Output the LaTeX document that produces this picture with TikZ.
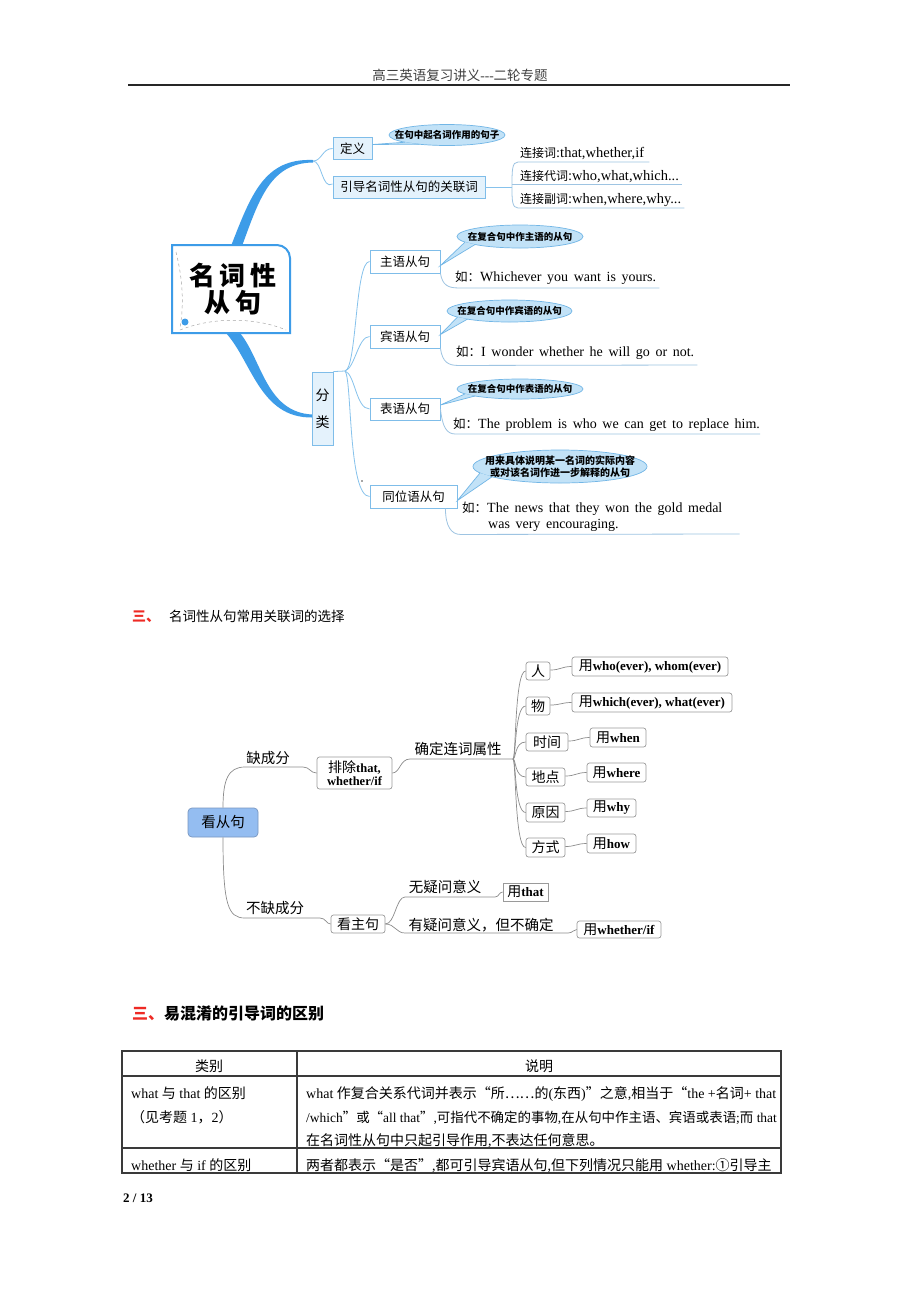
\documentclass[tikz,border=0pt]{standalone}
\usepackage{fontspec}
\setmainfont{Liberation Serif}
\newfontfamily\cjk{Noto Sans CJK SC}
\usetikzlibrary{shapes.geometric,calc}
\definecolor{brblue}{HTML}{3D9CE8}
\definecolor{tcol}{HTML}{86C2EC}
\definecolor{bxdraw}{HTML}{7FBDE9}
\definecolor{bxfill}{HTML}{E4F2FC}
\definecolor{bubfill}{HTML}{C2E2F7}
\definecolor{bubdraw}{HTML}{72B6E6}
\definecolor{ulcol}{HTML}{9EC4E2}
\definecolor{glin}{HTML}{8C8C8C}
\definecolor{gbd}{HTML}{9A9A9A}
\definecolor{kfill}{HTML}{94BDF1}
\definecolor{kdraw}{HTML}{7896C0}
\definecolor{hred}{HTML}{EE2A24}
\definecolor{tblc}{HTML}{3A3A3A}
\newcommand{\setfs}[1]{\fontsize{#1}{#1}\selectfont}
\begin{document}
\begin{tikzpicture}[x=1pt,y=-1pt,
  lbox/.style={draw=bxdraw, fill=bxfill, line width=0.9pt, inner sep=0pt, font=\cjk\setfs{12.5}},
  wbox/.style={draw=bxdraw, fill=white, line width=0.9pt, inner sep=0pt, font=\cjk\setfs{12.5}},
  bubst/.style={draw=bubdraw, fill=bubfill, line width=0.7pt},
  bubtxt/.style={inner sep=0pt, align=center, font=\cjk\bfseries\setfs{9.5}},
  tline/.style={draw=tcol, line width=0.8pt},
  uline/.style={draw=ulcol, line width=0.8pt},
  ex/.style={anchor=base west, inner sep=0pt, font={\setfs{14}\spaceskip=0.4em\relax}},
  ctxt/.style={anchor=base west, inner sep=0pt, font=\setfs{14.5}},
  gbox/.style={draw=gbd, fill=white, rounded corners=2.5pt, line width=0.7pt, inner sep=0pt, font=\cjk\setfs{14}},
  ubox/.style={draw=gbd, fill=white, rounded corners=2.5pt, line width=0.7pt, inner sep=0pt, font=\bfseries\setfs{13}},
  glab/.style={inner sep=0pt, font=\cjk\setfs{14.5}},
  gline/.style={draw=glin, line width=0.7pt},
  ttxt/.style={anchor=base west, inner sep=0pt, font=\setfs{14}},
]
\fill[white] (0,0) rectangle (920,1302);
\useasboundingbox (0,0) rectangle (920,1302);

% ---------- page header ----------
\node[inner sep=0pt, font=\setfs{13.5}, text=black!75] (hdr) at (460,75) {{\cjk 高三英语复习讲义}-{}-{}-{\cjk 二轮专题}};
\draw[line width=1.2pt, black!85] (128,85) -- (790,85);

% ---------- diagram 1 ----------
% thick branches
\fill[brblue] (231,246) .. controls (251,195) and (264,158) .. (313,160) -- (313,162.5) .. controls (270,163) and (259,200) .. (242,246) -- cycle;
\fill[brblue] (226,333) .. controls (252,362) and (260,418) .. (312,417.5) -- (312,414.5) .. controls (266,412) and (262,360) .. (240,333) -- cycle;

% central box
\draw[brblue, line width=2pt, fill=white] (172,333) -- (172,245) -- (277,245) .. controls (284,245) and (290,251) .. (290,258) -- (290,333) -- cycle;
\draw[black!35, dashed, line width=0.5pt] (176,252) .. controls (183,280) and (184,305) .. (180,328);
\draw[black!35, dashed, line width=0.5pt] (180,330) .. controls (215,316) and (258,318) .. (286,330);
\fill[brblue] (185,322) circle[radius=3.5];
\node[inner sep=0pt, align=center, font=\cjk\bfseries\fontsize{26}{27}\selectfont] (root) at (233,289.5) {名\,词\,性\\从\,句};

% definition / connectives
\node[lbox, minimum width=39, minimum height=22] (def) at (352.5,148.5) {定义};
\node[lbox, minimum width=152, minimum height=22] (lead) at (409,187) {引导名词性从句的关联词};
\coordinate (j1) at (313,161);
\draw[tline] (j1) .. controls (322,161) and (322,148.5) .. (def.west);
\draw[tline] (j1) .. controls (322,161) and (322,190) .. ([yshift=3]lead.west);

\coordinate (b0c) at (447,135);
\draw[bubst] (b0c) ellipse[x radius=58, y radius=10.5];
\fill[bubfill] ([yshift=4]def.east) -- ($(b0c)+(-42,7.24)$) -- ($(b0c)+(-28,9.2)$) -- cycle;
\draw[bubdraw, line width=0.7pt] ($(b0c)+(-42,7.24)$) -- ([yshift=4]def.east) -- ($(b0c)+(-28,9.2)$);
\node[bubtxt] (b0) at (b0c) {在句中起名词作用的句子};

\node[ctxt] (c1) at (520,157) {{\cjk\setfs{12}连接词}:that,whether,if};
\node[ctxt] (c2) at (520,180) {{\cjk\setfs{12}连接代词}:who,what,which...};
\node[ctxt] (c3) at (520,203) {{\cjk\setfs{12}连接副词}:when,where,why...};
\coordinate (j2) at (512,187);
\draw[tline] (lead.east) -- (j2);
\draw[uline] (j2) .. controls (512,170) and (512,162) .. ($(c1.base west)+(-2,5)$) -- ($(c1.base east)+(5,5)$);
\draw[uline] ($(c2.base west)+(-8,4)$) -- ($(c2.base east)+(3,4)$);
\draw[uline] (j2) .. controls (512,200) and (512,208) .. ($(c3.base west)+(-2,5)$) -- ($(c3.base east)+(3,5)$);

% classification
\node[lbox, minimum width=21, minimum height=73, align=center, font=\cjk\fontsize{14}{27}\selectfont] (fen) at (322.5,408.5) {分\\类};
\coordinate (J) at (345,371);
\draw[tline] (fen.north east) -- (J);

\node[wbox, minimum width=70, minimum height=23] (zy) at (405,261.5) {主语从句};
\node[wbox, minimum width=70, minimum height=23] (by) at (405,336.5) {宾语从句};
\node[wbox, minimum width=70, minimum height=22] (bi) at (405,409) {表语从句};
\node[wbox, minimum width=87, minimum height=23] (tw) at (413.5,496.5) {同位语从句};
\draw[tline] (J) .. controls (357,368) and (355,261.5) .. (zy.west);
\draw[tline] (J) .. controls (355,368) and (358,336.5) .. (by.west);
\draw[tline] (J) .. controls (355,374) and (356,409) .. (bi.west);
\draw[tline] (J) .. controls (352,378) and (348,496.5) .. (tw.west);
\fill[black!70] (362,481) circle[radius=0.9];

% bubbles
\coordinate (q1c) at (520,236.5);
\draw[bubst] (q1c) ellipse[x radius=63, y radius=11.5];
\fill[bubfill] ([yshift=-4]zy.east) -- ($(q1c)+(-55,5.6)$) -- ($(q1c)+(-45,8.05)$) -- cycle;
\draw[bubdraw, line width=0.7pt] ($(q1c)+(-55,5.6)$) -- ([yshift=-4]zy.east) -- ($(q1c)+(-45,8.05)$);
\node[bubtxt] (q1) at (q1c) {在复合句中作主语的从句};

\coordinate (q2c) at (509.5,311);
\draw[bubst] (q2c) ellipse[x radius=62.5, y radius=11];
\fill[bubfill] ([yshift=2]by.east) -- ($(q2c)+(-52,6.1)$) -- ($(q2c)+(-42,8.1)$) -- cycle;
\draw[bubdraw, line width=0.7pt] ($(q2c)+(-52,6.1)$) -- ([yshift=2]by.east) -- ($(q2c)+(-42,8.1)$);
\node[bubtxt] (q2) at (q2c) {在复合句中作宾语的从句};

\coordinate (q3c) at (520,389);
\draw[bubst] (q3c) ellipse[x radius=63, y radius=10];
\fill[bubfill] ([yshift=4]bi.east) -- ($(q3c)+(-55,4.9)$) -- ($(q3c)+(-45,7)$) -- cycle;
\draw[bubdraw, line width=0.7pt] ($(q3c)+(-55,4.9)$) -- ([yshift=4]bi.east) -- ($(q3c)+(-45,7)$);
\node[bubtxt] (q3) at (q3c) {在复合句中作表语的从句};

\coordinate (q4c) at (560,466.5);
\draw[bubst] (q4c) ellipse[x radius=87, y radius=16.5];
\fill[bubfill] ([yshift=-4]tw.east) -- ($(q4c)+(-80,6.5)$) -- ($(q4c)+(-68,10.3)$) -- cycle;
\draw[bubdraw, line width=0.7pt] ($(q4c)+(-80,6.5)$) -- ([yshift=-4]tw.east) -- ($(q4c)+(-68,10.3)$);
\node[bubtxt, font=\cjk\bfseries\fontsize{10}{12}\selectfont] (q4) at (q4c) {用来具体说明某一名词的实际内容\\或对该名词作进一步解释的从句};

% examples
\node[ex] (e1) at (455,281) {{\cjk\setfs{12.5}如：}Whichever you want is yours.};
\draw[uline] (zy.south east) .. controls ($(zy.south east)+(2,12)$) and ($(zy.south east)+(8,14.5)$) .. ($(zy.south east)+(18,14.5)$) -- ($(e1.base east)+(3,7)$);
\node[ex] (e2) at (456,356) {{\cjk\setfs{12.5}如：}I wonder whether he will go or not.};
\draw[uline] (by.south east) .. controls ($(by.south east)+(2,14)$) and ($(by.south east)+(8,17)$) .. ($(by.south east)+(18,17)$) -- ($(e2.base east)+(3,9)$);
\node[ex] (e3) at (453,428) {{\cjk\setfs{12.5}如：}The problem is who we can get to replace him.};
\draw[uline] (bi.east) .. controls ($(bi.east)+(2,18)$) and ($(bi.east)+(6,25)$) .. ($(bi.east)+(15,25)$) -- ($(e3.base east)+(0,6)$);
\node[ex] (e4) at (462,512) {{\cjk\setfs{12.5}如：}The news that they won the gold medal};
\node[ex] (e4b) at (488,528) {was very encouraging.};
\draw[uline] ([xshift=-12]tw.south east) .. controls ($(tw.south east)+(-12,18)$) and ($(tw.south east)+(-6,26)$) .. ($(tw.south east)+(3,26)$) -- ($(e4.base east)+(17,22)$);

% ---------- section heading 2 ----------
\node[anchor=base west, inner sep=0pt, font=\cjk\setfs{13.5}] (h2) at (132,621) {\textcolor{hred}{\bfseries\setfs{14}三、}\hspace{9pt}名词性从句常用关联词的选择};

% ---------- diagram 2 ----------
\node[draw=kdraw, fill=kfill, rounded corners=4pt, minimum width=70, minimum height=29, inner sep=0pt, line width=0.7pt, font=\cjk\setfs{14.5}] (kc) at (223,822.5) {看从句};
\node[glab] (que) at (268,758) {缺成分};
\node[ubox, minimum width=75, minimum height=32, align=center, font=\bfseries\fontsize{12.5}{13.5}\selectfont] (pc) at (354.5,773) {{\cjk\mdseries\setfs{14}排除}that,\\whether/if};
\draw[gline] (kc.north) .. controls (223,780) and (228,767) .. (245,767) -- (303,767) .. controls (310,767) and (310,773) .. (pc.west);
\node[glab] (qd) at (458,749) {确定连词属性};
\coordinate (j3) at (513,759);
\draw[gline] (pc.east) .. controls (400,773) and (400,759) .. (410,759) -- (j3);

\node[gbox, minimum width=24, minimum height=18] (r1) at (538,671) {人};
\node[gbox, minimum width=24, minimum height=18] (r2) at (538,706) {物};
\node[gbox, minimum width=42, minimum height=18] (r3) at (547,742) {时间};
\node[gbox, minimum width=39, minimum height=18] (r4) at (545.5,777) {地点};
\node[gbox, minimum width=39, minimum height=19] (r5) at (545.5,812.5) {原因};
\node[gbox, minimum width=39, minimum height=19] (r6) at (545.5,847.5) {方式};

\node[ubox, minimum width=156, minimum height=19] (u1) at (650,666.5) {{\cjk\mdseries\setfs{14}用}who(ever), whom(ever)};
\node[ubox, minimum width=160, minimum height=19] (u2) at (652,702.5) {{\cjk\mdseries\setfs{14}用}which(ever), what(ever)};
\node[ubox, minimum width=56, minimum height=19] (u3) at (618,737.5) {{\cjk\mdseries\setfs{14}用}when};
\node[ubox, minimum width=59, minimum height=19] (u4) at (616.5,772.5) {{\cjk\mdseries\setfs{14}用}where};
\node[ubox, minimum width=49, minimum height=18] (u5) at (611.5,808) {{\cjk\mdseries\setfs{14}用}why};
\node[ubox, minimum width=49, minimum height=19] (u6) at (611.5,843.5) {{\cjk\mdseries\setfs{14}用}how};

\foreach \r/\u in {r1/u1,r2/u2,r3/u3,r4/u4,r5/u5,r6/u6}{
  \draw[gline] (j3) .. controls +(3,0) and ([xshift=-11]\r.west) .. (\r.west);
  \draw[gline] ([yshift=1]\r.east) .. controls +(10,0) and ([xshift=-10]\u.west) .. (\u.west);
}

\node[glab] (bq) at (275,908) {不缺成分};
\node[gbox, minimum width=54, minimum height=18] (kz) at (358,924) {看主句};
\draw[gline] (kc.south) .. controls (223,905) and (228,918) .. (245,918) -- (320,918) .. controls (326,918) and (326,924) .. (kz.west);
\node[glab] (wy) at (445,887) {无疑问意义};
\node[ubox, rounded corners=0pt, minimum width=45, minimum height=18] (ut) at (525.5,892) {{\cjk\mdseries\setfs{14}用}that};
\draw[gline] (kz.east) .. controls (395,924) and (396,897) .. (405,897) -- (495,897) .. controls (499,897) and (499,892) .. (ut.west);
\node[glab] (yy) at (481,925) {有疑问意义，但不确定};
\node[ubox, minimum width=84, minimum height=17] (uw) at (619,929.5) {{\cjk\mdseries\setfs{14}用}whether/if};
\draw[gline] (kz.east) .. controls (395,924) and (396,933) .. (405,933) -- (568,933) .. controls (573,933) and (573,929.5) .. (uw.west);

% ---------- section heading 3 ----------
\node[anchor=base west, inner sep=0pt, font=\cjk\bfseries\setfs{16}] (h3) at (132,1019) {\textcolor{hred}{三、}易混淆的引导词的区别};

% ---------- table ----------
\draw[tblc, line width=1.1pt] (122,1051) rectangle (781,1173);
\draw[tblc, line width=1.1pt] (122,1076) -- (781,1076);
\draw[tblc, line width=1.1pt] (122,1148) -- (781,1148);
\draw[tblc, line width=1.1pt] (297,1051) -- (297,1173);
\node[inner sep=0pt, font=\cjk\setfs{14}] (th1) at (209,1066) {类别};
\node[inner sep=0pt, font=\cjk\setfs{14}] (th2) at (539,1066) {说明};
\node[ttxt] (t1) at (131,1098) {what {\cjk 与} that {\cjk 的区别}};
\node[ttxt] (t2) at (131,1122) {{\cjk （见考题} 1{\cjk ，}2{\cjk ）}};
\node[ttxt] (t3) at (306,1098) {what {\cjk 作复合关系代词并表示“所……的}({\cjk 东西}){\cjk ”之意},{\cjk 相当于“}the +{\cjk 名词}+ that};
\node[ttxt, font=\setfs{13.45}] (t4) at (306,1122) {/which{\cjk ”或“}all that{\cjk ”},{\cjk 可指代不确定的事物},{\cjk 在从句中作主语、宾语或表语};{\cjk 而} that};
\node[ttxt] (t5) at (306,1145) {{\cjk 在名词性从句中只起引导作用},{\cjk 不表达任何意思。}};
\node[ttxt] (t6) at (131,1170) {whether {\cjk 与} if {\cjk 的区别}};
\node[ttxt] (t7) at (306,1170) {{\cjk 两者都表示“是否”},{\cjk 都可引导宾语从句},{\cjk 但下列情况只能用} whether:{\cjk ①引导主}};

% ---------- footer ----------
\node[anchor=base west, inner sep=0pt, font=\bfseries\setfs{13}] (ft) at (123,1202) {2 / 13};
\end{tikzpicture}
\end{document}
